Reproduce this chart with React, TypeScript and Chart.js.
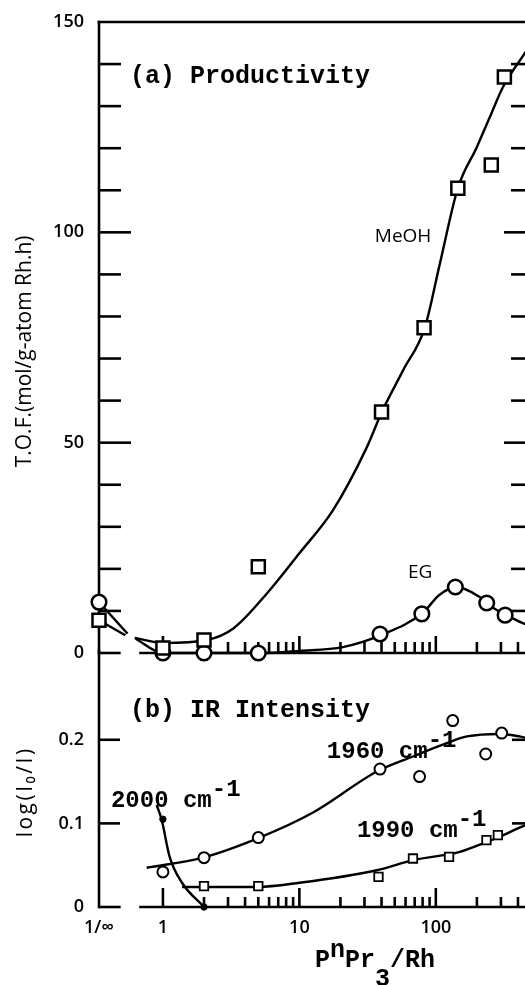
import React, { useEffect, useRef } from "react";
import { Chart, registerables } from "chart.js";

Chart.register(...registerables);

// ---------- x axis: PnPr3/Rh (log scale, left edge stands for 1/∞) ----------
const X_INF = 0.34;
const X_MAX = 490;
const X_BREAK = [0.49, 0.67];
const X_TICKS = [X_INF, 1, 10, 100];
const X_TICK_LABELS = ["1/∞", "1", "10", "100"];
const X_MAJOR = [1, 10, 100];
const X_MINOR = [2, 3, 4, 5, 6, 7, 8, 9, 20, 30, 40, 50, 60, 70, 80, 90, 200, 300, 400];

// ---------- panel (a) Productivity ----------
const A_Y_MAX = 150;
const A_Y_TICKS = [0, 50, 100, 150];
const A_Y_TICK_LABELS = ["0", "50", "100", "150"];
const A_Y_MAJOR = [50, 100];
const A_Y_MINOR = [10, 20, 30, 40, 60, 70, 80, 90, 110, 120, 130, 140];

const MEOH_X = [X_INF, 1, 2, 5, 40, 82, 145, 255, 318];
const MEOH_Y = [7.8, 1.2, 3.1, 20.5, 57.3, 77.3, 110.5, 116, 136.9];
const EG_X = [X_INF, 1, 2, 5, 39, 79, 139, 236, 322];
const EG_Y = [12.1, 0, 0, 0, 4.5, 9.3, 15.7, 11.9, 9.0];

const MEOH_LEAD_X = [X_INF, 0.53];
const MEOH_LEAD_Y = [7.8, 4.2];
const MEOH_FIT_X = [0.62, 1, 2.1, 3.3, 5.8, 10, 17.6, 31, 40.2, 57.8, 83, 107, 145, 200, 249, 310, 449, 490];
const MEOH_FIT_Y = [3.6, 2.4, 3.1, 5.9, 14.2, 23.7, 33.9, 48.7, 57.3, 67.3, 77.3, 92.5, 110.5, 120.3, 127.4, 134.5, 142.6, 144.5];

const EG_LEAD_X = [X_INF, 0.55];
const EG_LEAD_Y = [12.1, 4.6];
const EG_FIT_X = [0.63, 1, 5.2, 10, 20.8, 40, 80, 106, 142, 210, 260, 330, 434, 490];
const EG_FIT_Y = [3.4, 0, 0, 0.5, 1.4, 4.3, 9.5, 13.8, 15.7, 13.3, 10.9, 9.0, 7.1, 6.5];

// ---------- panel (b) IR Intensity ----------
const B_Y_MAX = 0.305;
const B_Y_TICKS = [0, 0.1, 0.2];
const B_Y_TICK_LABELS = ["0", "0.1", "0.2"];
const B_Y_MAJOR = [0.1, 0.2];

const W1960_X = [1, 2, 5, 39, 76, 133, 232, 304];
const W1960_Y = [0.042, 0.059, 0.083, 0.165, 0.156, 0.223, 0.183, 0.208];
const W1960_FIT_X = [0.76, 1.96, 5.1, 12.6, 37, 68, 120, 169, 294, 411, 490];
const W1960_FIT_Y = [0.047, 0.059, 0.083, 0.113, 0.162, 0.18, 0.196, 0.204, 0.207, 0.204, 0.201];

const W1990_X = [2, 5, 38, 68, 125, 235, 285];
const W1990_Y = [0.025, 0.025, 0.036, 0.058, 0.06, 0.08, 0.086];
const W1990_FIT_X = [1.38, 4.9, 10, 37, 68, 150, 237, 294, 411, 490];
const W1990_FIT_Y = [0.024, 0.024, 0.029, 0.044, 0.056, 0.066, 0.078, 0.084, 0.095, 0.1];

const W2000_X = [1, 2];
const W2000_Y = [0.105, 0];
const W2000_FIT_X = [0.9, 0.98, 1.12, 1.38, 2];
const W2000_FIT_Y = [0.122, 0.104, 0.06, 0.029, 0];

// ---------- styling ----------
const INK = "#000";
const SANS = '"Open Sans", "DejaVu Sans", sans-serif';
const MONO = '"Liberation Mono", "DejaVu Sans Mono", monospace';
const AXIS_W = 2.6;
const CANVAS_W = 560;

const pts = (xs: number[], ys: number[]) => xs.map((x, i) => ({ x, y: ys[i] }));

const markers = (data: any, style: string, r: number, bw: number, fill = "#fff") => ({
  data,
  showLine: false,
  clip: false,
  order: 0,
  pointStyle: style,
  pointRadius: r,
  pointHoverRadius: r,
  pointBorderWidth: bw,
  pointBorderColor: INK,
  pointBackgroundColor: fill,
  borderColor: INK,
  backgroundColor: fill,
});

const curve = (data: any) => ({
  data,
  showLine: true,
  clip: false,
  order: 1,
  pointRadius: 0,
  pointHoverRadius: 0,
  borderColor: INK,
  borderWidth: 2.4,
  cubicInterpolationMode: "monotone",
  fill: false,
});

const xScale = (display: boolean) => ({
  type: "logarithmic",
  bounds: "data",
  min: X_INF,
  max: X_MAX,
  display,
  grid: { display: false, drawTicks: false },
  border: { display: false },
  afterBuildTicks: (s: any) => {
    s.ticks = X_TICKS.map((v) => ({ value: v }));
  },
  ticks: {
    autoSkip: false,
    maxRotation: 0,
    minRotation: 0,
    padding: 10,
    color: INK,
    font: { family: SANS, size: 18, weight: "600" },
    callback: (_v: any, i: number) => X_TICK_LABELS[i],
  },
  afterFit: (s: any) => {
    s.height = display ? 78 : 0;
    s.paddingLeft = 0;
    s.paddingRight = 0;
    s.paddingTop = 0;
    s.paddingBottom = 0;
  },
});

const yScale = (max: number, ticks: number[], labels: string[]) => ({
  type: "linear",
  bounds: "data",
  min: 0,
  max,
  grid: { display: false, drawTicks: false },
  border: { display: false },
  afterBuildTicks: (s: any) => {
    s.ticks = ticks.map((v) => ({ value: v }));
  },
  ticks: {
    padding: 15,
    color: INK,
    font: { family: SANS, size: 18, weight: "600" },
    callback: (_v: any, i: number) => labels[i],
  },
  afterFit: (s: any) => {
    s.width = 99;
    s.paddingTop = 0;
    s.paddingBottom = 0;
    s.paddingLeft = 0;
    s.paddingRight = 0;
  },
});

function seg(ctx: CanvasRenderingContext2D, x1: number, y1: number, x2: number, y2: number) {
  ctx.beginPath();
  ctx.moveTo(x1, y1);
  ctx.lineTo(x2, y2);
  ctx.stroke();
}

function drawFrame(chart: any, o: { top: boolean; yMajor: number[]; yMinor: number[]; lMaj: number; lMin: number; rMaj: number; rMin: number; xMaj: number; xMin: number }) {
  const { ctx, chartArea: a, scales } = chart;
  const x = scales.x;
  const y = scales.y;
  ctx.save();
  ctx.strokeStyle = INK;
  ctx.lineWidth = AXIS_W;
  ctx.lineCap = "butt";
  seg(ctx, a.left, o.top ? a.top - 1.3 : a.top - 2, a.left, a.bottom + 1.3);
  if (o.top) seg(ctx, a.left - 1.3, a.top, a.right, a.top);
  seg(ctx, a.right, a.top, a.right, a.bottom);
  seg(ctx, a.left, a.bottom, x.getPixelForValue(X_BREAK[0]), a.bottom);
  seg(ctx, x.getPixelForValue(X_BREAK[1]), a.bottom, a.right, a.bottom);
  o.yMajor.forEach((v) => {
    const p = y.getPixelForValue(v);
    seg(ctx, a.left, p, a.left + o.lMaj, p);
    seg(ctx, a.right, p, a.right - o.rMaj, p);
  });
  o.yMinor.forEach((v) => {
    const p = y.getPixelForValue(v);
    seg(ctx, a.left, p, a.left + o.lMin, p);
    seg(ctx, a.right, p, a.right - o.rMin, p);
  });
  X_MAJOR.forEach((v) => {
    const p = x.getPixelForValue(v);
    seg(ctx, p, a.bottom, p, a.bottom - o.xMaj);
  });
  X_MINOR.forEach((v) => {
    const p = x.getPixelForValue(v);
    seg(ctx, p, a.bottom, p, a.bottom - o.xMin);
  });
  ctx.restore();
}

function wave(ctx: CanvasRenderingContext2D, text: string, x: number, y: number) {
  ctx.font = `bold 24px ${MONO}`;
  ctx.textAlign = "left";
  ctx.textBaseline = "alphabetic";
  ctx.fillText(text, x, y);
  const w = ctx.measureText(text).width;
  ctx.fillText("-1", x + w, y - 11);
}

function vTitle(ctx: CanvasRenderingContext2D, text: string, cx: number, cy: number, spacing: number) {
  ctx.save();
  ctx.translate(cx, cy);
  ctx.rotate(-Math.PI / 2);
  ctx.font = `500 21px ${SANS}`;
  (ctx as any).letterSpacing = `${spacing}px`;
  ctx.textAlign = "center";
  ctx.textBaseline = "middle";
  ctx.fillText(text, 0, 0);
  ctx.restore();
}

const panelA = {
  id: "panelA",
  beforeDatasetsDraw(chart: any) {
    drawFrame(chart, { top: true, yMajor: A_Y_MAJOR, yMinor: A_Y_MINOR, lMaj: 32, lMin: 22, rMaj: 26, rMin: 19, xMaj: 17, xMin: 11 });
  },
  afterDatasetsDraw(chart: any) {
    const { ctx, scales } = chart;
    const X = (v: number) => scales.x.getPixelForValue(v);
    const Y = (v: number) => scales.y.getPixelForValue(v);
    ctx.save();
    ctx.fillStyle = INK;
    ctx.textAlign = "left";
    ctx.textBaseline = "alphabetic";
    ctx.font = `bold 25px ${MONO}`;
    ctx.fillText("(a) Productivity", X(0.573), Y(135.5));
    ctx.font = `500 19px ${SANS}`;
    ctx.fillText("MeOH", X(35.7), Y(97.6));
    ctx.fillText("EG", X(62.4), Y(17.8));
    vTitle(ctx, "T.O.F.(mol/g-atom Rh.h)", scales.y.left + 25, Y(71.7), 0);
    ctx.restore();
  },
};

const panelB = {
  id: "panelB",
  beforeDatasetsDraw(chart: any) {
    drawFrame(chart, { top: false, yMajor: B_Y_MAJOR, yMinor: [], lMaj: 21, lMin: 0, rMaj: 18, rMin: 0, xMaj: 19, xMin: 10 });
  },
  afterDatasetsDraw(chart: any) {
    const { ctx, scales } = chart;
    const X = (v: number) => scales.x.getPixelForValue(v);
    const Y = (v: number) => scales.y.getPixelForValue(v);
    ctx.save();
    ctx.fillStyle = INK;
    ctx.textAlign = "left";
    ctx.textBaseline = "alphabetic";
    ctx.font = `bold 25px ${MONO}`;
    ctx.fillText("(b) IR Intensity", X(0.573), Y(0.2275));
    wave(ctx, "1960 cm", X(15.9), Y(0.1784));
    wave(ctx, "2000 cm", X(0.416), Y(0.1198));
    wave(ctx, "1990 cm", X(26.4), Y(0.0838));
    // axis title PnPr3/Rh with raised n and lowered 3
    ctx.font = `bold 25px ${MONO}`;
    const base = Y(-0.072);
    let cx = X(13.0);
    const parts: [string, number][] = [["P", 0], ["n", -10], ["Pr", 0], ["3", 19], ["/Rh", 0]];
    parts.forEach(([t, dy]) => {
      ctx.fillText(t, cx, base + dy);
      cx += ctx.measureText(t).width;
    });
    vTitle(ctx, "log(I\u2080/I)", scales.y.left + 26, Y(0.1377), 2.5);
    ctx.restore();
  },
};

const commonOptions = (pad: any, yOpts: any, showX: boolean) => ({
  responsive: false,
  animation: false,
  events: [],
  layout: { padding: pad },
  plugins: { legend: { display: false }, tooltip: { enabled: false } },
  scales: { x: xScale(showX), y: yOpts },
});

export default function App() {
  const refA = useRef<HTMLCanvasElement>(null);
  const refB = useRef<HTMLCanvasElement>(null);

  useEffect(() => {
    const chartA = new Chart(refA.current as HTMLCanvasElement, {
      type: "line",
      data: {
        datasets: [
          markers(pts(MEOH_X, MEOH_Y), "rect", 9.2, 2.5),
          markers(pts(EG_X, EG_Y), "circle", 7.3, 2.5),
          curve(pts(MEOH_LEAD_X, MEOH_LEAD_Y)),
          curve(pts(MEOH_FIT_X, MEOH_FIT_Y)),
          curve(pts(EG_LEAD_X, EG_LEAD_Y)),
          curve(pts(EG_FIT_X, EG_FIT_Y)),
        ] as any,
      },
      options: commonOptions({ top: 22, right: 30, bottom: 27, left: 0 }, yScale(A_Y_MAX, A_Y_TICKS, A_Y_TICK_LABELS), false) as any,
      plugins: [panelA],
    });
    const chartB = new Chart(refB.current as HTMLCanvasElement, {
      type: "line",
      data: {
        datasets: [
          markers(pts(W1960_X, W1960_Y), "circle", 5.5, 2),
          markers(pts(W1990_X, W1990_Y), "rect", 6, 1.8),
          markers(pts(W2000_X, W2000_Y), "circle", 3.2, 1, INK),
          curve(pts(W1960_FIT_X, W1960_FIT_Y)),
          curve(pts(W1990_FIT_X, W1990_FIT_Y)),
          curve(pts(W2000_FIT_X, W2000_FIT_Y)),
        ] as any,
      },
      options: commonOptions({ top: 12, right: 30, bottom: 0, left: 0 }, yScale(B_Y_MAX, B_Y_TICKS, B_Y_TICK_LABELS), true) as any,
      plugins: [panelB],
    });
    return () => {
      chartA.destroy();
      chartB.destroy();
    };
  }, []);

  return (
    <div style={{ position: "fixed", left: 0, top: 0, width: 525, height: 985, overflow: "hidden", background: "#fff" }}>
      <canvas ref={refA} width={CANVAS_W} height={680} style={{ position: "absolute", left: 0, top: 0, width: CANVAS_W, height: 680 }} />
      <canvas ref={refB} width={CANVAS_W} height={345} style={{ position: "absolute", left: 0, top: 640, width: CANVAS_W, height: 345 }} />
    </div>
  );
}
